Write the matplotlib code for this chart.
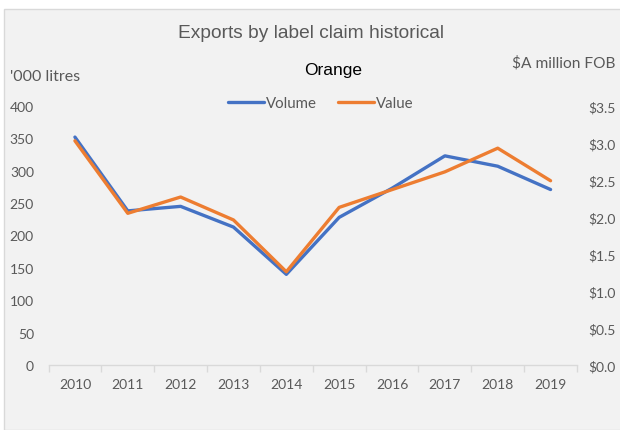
import matplotlib
matplotlib.use('Agg')
import matplotlib.pyplot as plt
from matplotlib.patches import Rectangle

# ── Data ───────────────────────────────────────────────────────────────────────
years = ["2010", "2011", "2012", "2013", "2014", "2015", "2016", "2017", "2018", "2019"]
volume = [352, 238, 245, 213, 140, 228, 273, 323, 307, 271]          # '000 litres
value = [3.03, 2.05, 2.27, 1.96, 1.26, 2.13, 2.37, 2.61, 2.93, 2.49]  # $A million FOB

left_ticks = [0, 50, 100, 150, 200, 250, 300, 350, 400]
right_ticks = [0.0, 0.5, 1.0, 1.5, 2.0, 2.5, 3.0, 3.5]

BLUE = "#4472C4"
ORANGE = "#ED7D31"
GREY_TXT = "#595959"
TICK_FONT = "Lato"
TITLE_FONT = "Liberation Sans"

W, H = 620, 431
fig = plt.figure(figsize=(W / 100, H / 100), dpi=100)
fig.patch.set_facecolor("white")

# chart area background with thin border
fig.patches.append(Rectangle((4 / W, 0), 1, 1 - 10 / H, transform=fig.transFigure,
                             facecolor="#F2F2F2", edgecolor="#D9D9D9", linewidth=1, zorder=-5))

ax = fig.add_axes([48.5 / W, 1 - 366 / H, (577 - 48.5) / W, (366 - 107) / H])
ax.set_facecolor("none")
ax2 = ax.twinx()
ax2.set_facecolor("none")

x = list(range(len(years)))
ax.plot(x, volume, color=BLUE, lw=2.4, solid_capstyle="round", solid_joinstyle="round", label="Volume", zorder=3)
ax2.plot(x, value, color=ORANGE, lw=2.4, solid_capstyle="round", solid_joinstyle="round", label="Value", zorder=3)

ax.set_xlim(-0.5, len(years) - 0.5)
ax.set_ylim(0, 400)
ax2.set_ylim(0, 3.5)

ax.set_yticks(left_ticks)
ax.set_yticklabels([str(t) for t in left_ticks])
ax2.set_yticks(right_ticks)
ax2.set_yticklabels([f"${t:.1f}" for t in right_ticks])

ax.set_xticks(x)
ax.set_xticklabels(years)
ax.set_xticks([i - 0.5 for i in range(len(years) + 1)], minor=True)

for a in (ax, ax2):
    for s in a.spines.values():
        s.set_visible(False)
ax.spines["bottom"].set_visible(True)
ax.spines["bottom"].set_color("#D9D9D9")
ax.spines["bottom"].set_linewidth(1)

ax.tick_params(axis="x", which="major", length=0, pad=9.5, labelsize=10, labelcolor=GREY_TXT)
ax.tick_params(axis="x", which="minor", length=5, width=1, color="#D9D9D9")
ax.tick_params(axis="y", length=0, pad=10.5, labelsize=10, labelcolor=GREY_TXT)
ax2.tick_params(axis="y", length=0, pad=8, labelsize=10, labelcolor=GREY_TXT)
for lab in ax.get_xticklabels() + ax.get_yticklabels() + ax2.get_yticklabels():
    lab.set_fontfamily(TICK_FONT)

# titles and axis captions
fig.text(311 / W, 1 - 34 / H, "Exports by label claim historical", ha="center", va="center",
         fontsize=13.8, color=GREY_TXT, family=TITLE_FONT)
fig.text(333 / W, 1 - 71 / H, "Orange", ha="center", va="center",
         fontsize=12.5, color="black", family=TITLE_FONT)
fig.text(10 / W, 1 - 77 / H, "'000 litres", ha="left", va="center",
         fontsize=11.5, color=GREY_TXT, family=TICK_FONT)
fig.text(615 / W, 1 - 63 / H, "$A million FOB", ha="right", va="center",
         fontsize=11.2, color=GREY_TXT, family=TICK_FONT)

# legend
h1, l1 = ax.get_legend_handles_labels()
h2, l2 = ax2.get_legend_handles_labels()
leg = fig.legend(h1 + h2, l1 + l2, loc="center", bbox_to_anchor=(321 / W, 1 - 104 / H),
                 ncol=2, frameon=False, handlelength=2.4, handletextpad=0.15,
                 columnspacing=1.4, labelcolor=GREY_TXT, prop={"family": TICK_FONT, "size": 10.8})

fig.savefig("out.png", dpi=100)
